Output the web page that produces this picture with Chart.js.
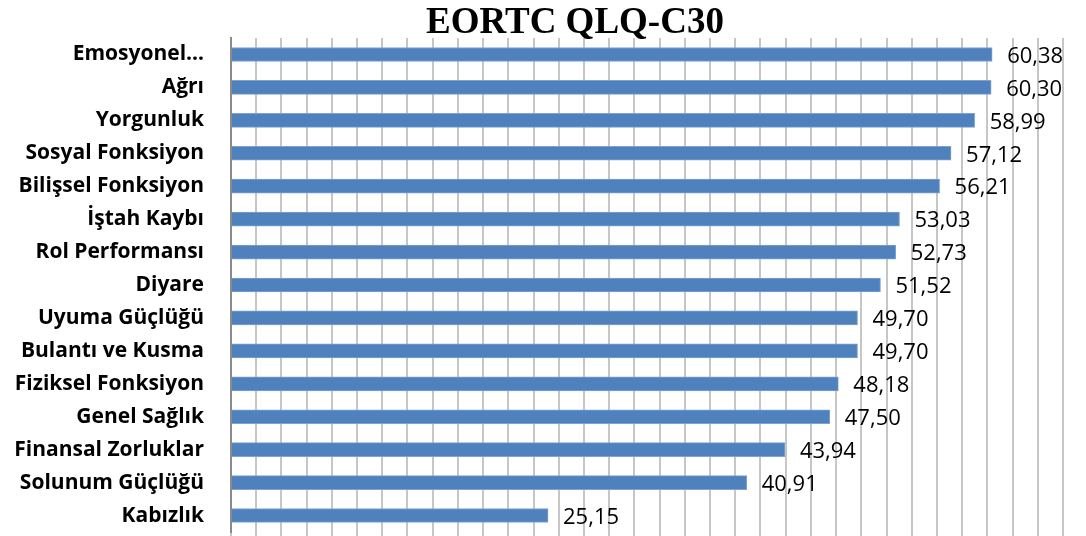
<!DOCTYPE html>
<html>
<head>
<meta charset="utf-8">
<script src="https://cdn.jsdelivr.net/npm/chart.js@4"></script>
<style>
  html, body { margin: 0; padding: 0; background: #fff; }
  #wrap { width: 1086px; height: 536px; }
</style>
</head>
<body>
<div id="wrap"><canvas id="chart" width="1086" height="536"></canvas></div>
<script>
const labels = [
    'Emosyonel…', 'Ağrı', 'Yorgunluk', 'Sosyal Fonksiyon', 'Bilişsel Fonksiyon',
    'İştah Kaybı', 'Rol Performansı', 'Diyare', 'Uyuma Güçlüğü', 'Bulantı ve Kusma',
    'Fiziksel Fonksiyon', 'Genel Sağlık', 'Finansal Zorluklar', 'Solunum Güçlüğü', 'Kabızlık'
];
const scores = [
    60.38, 60.30, 58.99, 57.12, 56.21,
    53.03, 52.73, 51.52, 49.70, 49.70,
    48.18, 47.50, 43.94, 40.91, 25.15
];
const chartTitle = 'EORTC QLQ-C30';

// title drawn by hand so it sits where the original one does
const titlePlugin = {
    id: 'manualTitle',
    afterDraw(chart) {
        const ctx = chart.ctx;
        ctx.save();
        ctx.font = 'bold 37px "Liberation Serif"';
        ctx.fillStyle = '#000';
        ctx.textAlign = 'center';
        ctx.textBaseline = 'alphabetic';
        ctx.fillText(chartTitle, 575, 33);
        ctx.restore();
    }
};

// value labels at the end of each bar, comma as decimal mark
const valuePlugin = {
    id: 'valueLabels',
    afterDatasetsDraw(chart) {
        const ctx = chart.ctx;
        const meta = chart.getDatasetMeta(0);
        ctx.save();
        ctx.font = '22px "Open Sans"';
        ctx.fillStyle = '#000';
        ctx.textAlign = 'left';
        ctx.textBaseline = 'middle';
        meta.data.forEach((bar, i) => {
            const txt = scores[i].toFixed(2).replace('.', ',');
            ctx.fillText(txt, bar.x + 15, bar.y + 2);
        });
        ctx.restore();
    }
};

new Chart(document.getElementById('chart'), {
    type: 'bar',
    data: {
        labels: labels,
        datasets: [{
            data: scores,
            backgroundColor: '#4F81BD',
            borderColor: '#7DA2D3',
            borderWidth: 1,
            barThickness: 14
        }]
    },
    options: {
        indexAxis: 'y',
        responsive: false,
        animation: false,
        layout: { padding: { top: 38, right: 23, bottom: 0, left: 0 } },
        plugins: {
            legend: { display: false },
            title: { display: false },
            tooltip: { enabled: false }
        },
        scales: {
            x: {
                min: 0,
                max: 66,
                afterFit(scale) {
                    scale.height = 4;
                    scale.paddingLeft = 0;
                    scale.paddingRight = 0;
                },
                ticks: { display: false, stepSize: 2 },
                grid: { color: '#C6C6C6', lineWidth: 2, drawTicks: true, tickLength: 4 },
                border: { display: false }
            },
            y: {
                afterFit(scale) {
                    scale.width = 231;
                    scale.paddingTop = 0;
                    scale.paddingBottom = 0;
                },
                grid: { display: false, drawTicks: false },
                border: { display: true, color: '#8A8A8A', width: 2 },
                ticks: {
                    color: '#000',
                    padding: 27,
                    font: { family: 'Open Sans', size: 21, weight: 'bold' }
                }
            }
        }
    },
    plugins: [titlePlugin, valuePlugin]
});
</script>
</body>
</html>
